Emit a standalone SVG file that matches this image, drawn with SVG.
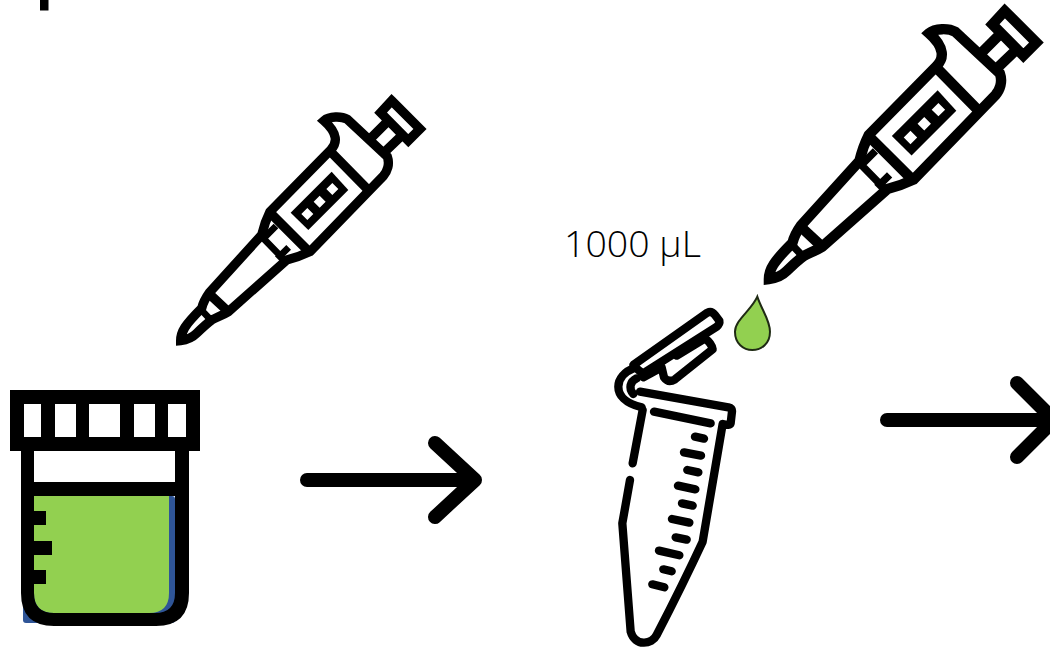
<svg xmlns="http://www.w3.org/2000/svg" width="1050" height="651" viewBox="0 0 1050 651">
<style>
.ln{fill:none;stroke:#000;stroke-linejoin:round;stroke-linecap:round}
.p{stroke-width:28;stroke-linecap:butt;stroke-linejoin:miter}
.q{stroke-width:20;stroke-linecap:butt}
.t{stroke-width:25}
.arr{stroke-width:14}
.lab{font-family:"Open Sans","Noto Sans",sans-serif;font-size:37.500px;font-weight:300;fill:#000}
</style>
<defs>
<g id="pip">
<path class="ln p" d="M32 752C32 725 45 705 95 655C100 635 108 622 118 608L275 435C282 405 290 385 300 365L482 180C502 160 505 130 462 92C478 78 515 78 532 88L652 200C660 222 652 245 640 258L420 485C395 497 370 505 350 510L175 665C155 677 140 682 125 690C105 705 95 715 80 730C65 745 50 750 32 752Z"/>
<path class="ln p" d="M485 188L600 305M300 368L420 488M118 612L178 668"/>
<path class="ln q" d="M272 437L348 515M92 658L130 698M318 408L284 442M356 472L322 506"/>
<path class="ln p" d="M605 142L650 97M645 185L692 140M665 32L750 117L715 152L632 68Z"/>
<path fill="#000" d="M485 245L535 300L415 420L362 368Z"/>
<path fill="#fff" d="M487 279L505 297L487 315L469 297ZM449 317L467 335L449 353L431 335ZM412 354L430 372L412 390L394 372Z"/>
</g>
</defs>
<g id="top-mark"><rect x="40" y="0" width="8.500" height="10.500" fill="#000"/></g>
<g id="cup">
<rect x="23" y="496" width="152" height="127" rx="3" fill="#2f5597"/>
<path d="M34 496H169V593Q169 613 149 613H54Q34 613 34 593Z" fill="#92d050"/>
<path fill="#000" fill-rule="evenodd" d="M10 390H200V451H189V593Q189 626 156 626H54Q21 626 21 593V451H10ZM24 404V437H41V404ZM55 404V437H76V404ZM89 404V437H120V404ZM134 404V437H155V404ZM168 404V437H186V404ZM34 451V482H175V451ZM34 496V593Q34 613 54 613H155Q175 613 175 593V496Z"/>
<path fill="#000" d="M34 511H46V525H34ZM34 541H52V555H34ZM34 570H46V584H34Z"/>
</g>
<g id="pipette-left"><use href="#pip" transform="translate(170 90) scale(.3333)"/></g>
<g id="pipette-right"><use href="#pip" transform="translate(757 -1) scale(.3725)"/></g>
<g id="tube" transform="translate(600 290) scale(.3333)">
<path d="M472 20C455 60 405 90 405 125C405 160 430 180 457 180C485 180 510 160 510 125C510 90 485 60 472 20Z" fill="#92d050" stroke="#1f2a14" stroke-width="6"/>
<path class="ln t" d="M120 305L385 352Q397 355 396 365L392 400Q390 408 368 402L308 755Q250 880 170 1035C155 1065 105 1070 92 1025L67 700L90 570M98 520L128 360"/>
<path class="ln t" d="M162 365L332 400"/>
<path class="ln t" d="M125 352C75 340 55 315 55 290C55 265 75 245 100 235M110 265C90 275 85 295 100 312"/>
<path class="ln t" d="M100 225L322 68Q335 62 345 75L358 92Q360 102 350 110L130 250Q118 245 100 225Z"/>
<path class="ln t" d="M230 197L315 145Q335 160 338 178L225 268Q205 280 192 262L185 232L130 262"/>
<path class="ln t" d="M285 440L312 446M252 487L303 497M262 540L295 547M234 587L286 598M246 640L278 647M216 687L268 698M227 742L260 749M177 782L238 796M190 838L215 844M157 883L193 892"/>
</g>
<g id="label"><text class="lab" x="564" y="257">1000 µL</text></g>
<g id="connectors">
<path class="ln arr" d="M307 480H474M435 443L475 480L435 517"/>
<path class="ln arr" d="M887 420H1050M1017 383L1054 420L1017 457"/>
</g>
</svg>
